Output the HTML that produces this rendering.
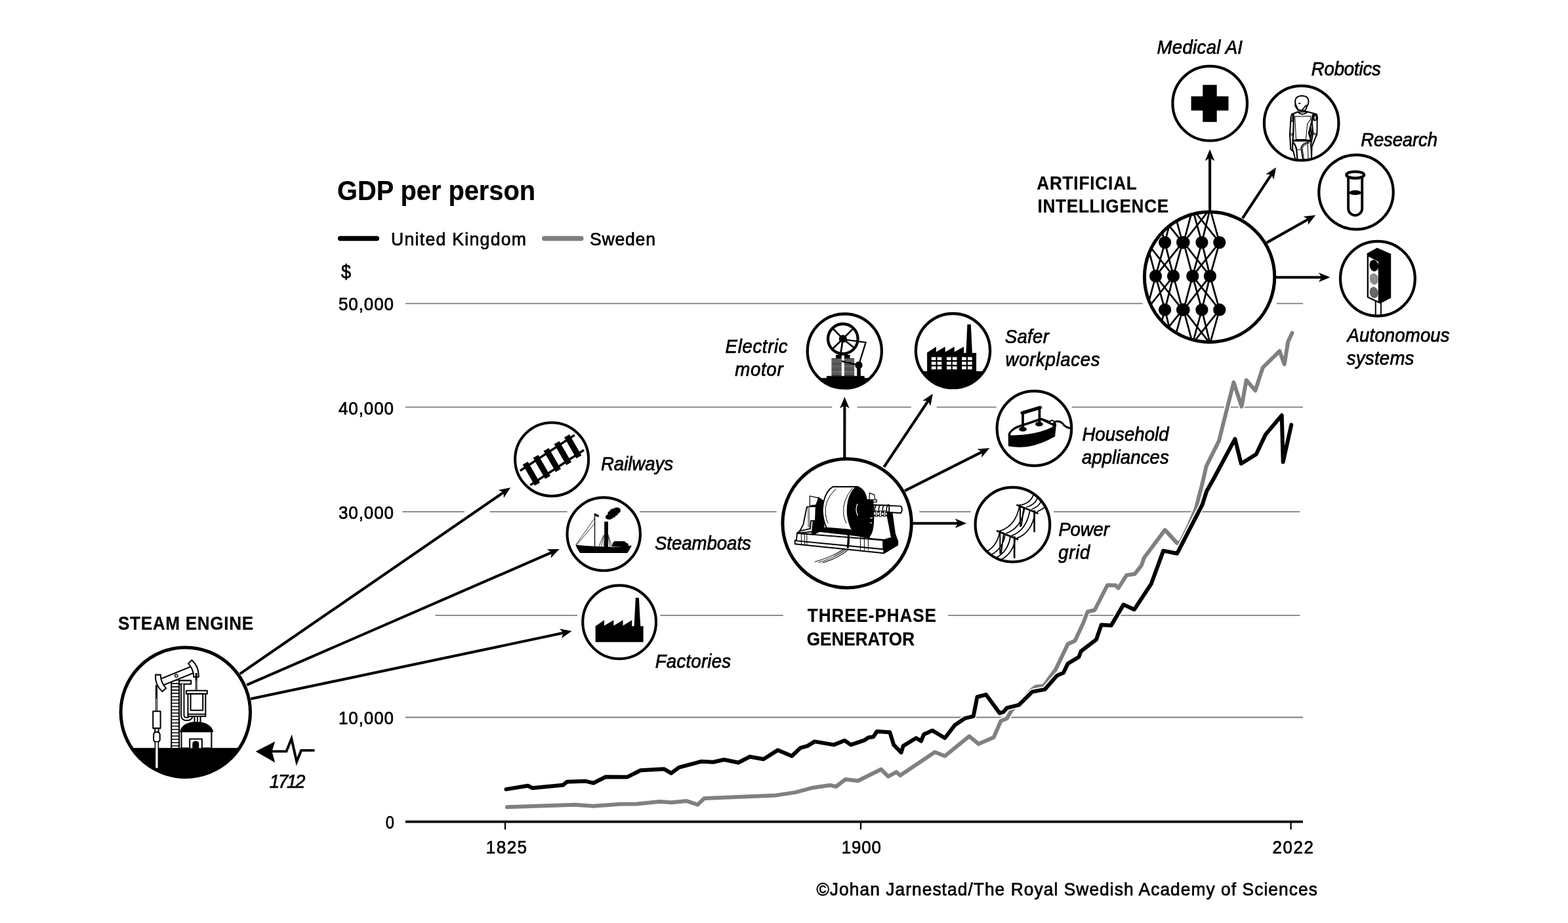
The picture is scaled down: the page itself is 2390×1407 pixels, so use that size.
<!DOCTYPE html>
<html lang="en"><head><meta charset="utf-8"><title>GDP per person</title>
<style>
html,body{margin:0;padding:0;background:#fff;}
body{width:2390px;height:1407px;overflow:hidden;}
svg{display:block;font-family:"Liberation Sans",sans-serif;}
</style></head><body>
<svg width="2390" height="1407" viewBox="0 0 2390 1407">
<rect width="2390" height="1407" fill="#fff"/>
<g id="grid">
<line x1="618.0" y1="462.7" x2="1741.7" y2="462.7" stroke="#7d7d7d" stroke-width="1.8"/>
<line x1="1946.0" y1="462.7" x2="1986.0" y2="462.7" stroke="#7d7d7d" stroke-width="1.8"/>
<line x1="618.0" y1="620.7" x2="1268.1" y2="620.7" stroke="#7d7d7d" stroke-width="1.8"/>
<line x1="1306.5" y1="620.7" x2="1388.7" y2="620.7" stroke="#7d7d7d" stroke-width="1.8"/>
<line x1="1427.6" y1="620.7" x2="1518.7" y2="620.7" stroke="#7d7d7d" stroke-width="1.8"/>
<line x1="1633.8" y1="620.7" x2="1986.0" y2="620.7" stroke="#7d7d7d" stroke-width="1.8"/>
<line x1="613.3" y1="780.2" x2="707.8" y2="780.2" stroke="#7d7d7d" stroke-width="1.8"/>
<line x1="746.5" y1="780.2" x2="864.6" y2="780.2" stroke="#7d7d7d" stroke-width="1.8"/>
<line x1="975.1" y1="780.2" x2="1183.6" y2="780.2" stroke="#7d7d7d" stroke-width="1.8"/>
<line x1="1401.3" y1="780.2" x2="1479.9" y2="780.2" stroke="#7d7d7d" stroke-width="1.8"/>
<line x1="1606.0" y1="780.2" x2="1981.3" y2="780.2" stroke="#7d7d7d" stroke-width="1.8"/>
<line x1="663.5" y1="938.1" x2="880.2" y2="938.1" stroke="#7d7d7d" stroke-width="1.8"/>
<line x1="1006.3" y1="938.1" x2="1193.9" y2="938.1" stroke="#7d7d7d" stroke-width="1.8"/>
<line x1="1445.2" y1="938.1" x2="1981.3" y2="938.1" stroke="#7d7d7d" stroke-width="1.8"/>
<line x1="618.0" y1="1093.5" x2="1986.0" y2="1093.5" stroke="#7d7d7d" stroke-width="1.8"/>
</g>
<g id="curves">
<polyline points="772.9,1230.3 876.7,1226.7 904.3,1228.8 945.8,1225.7 970.9,1225.4 1004.8,1221.9 1023.6,1223.2 1046.2,1220.9 1063.4,1226.6 1073.5,1216.9 1182.3,1212.4 1212.4,1207.9 1239.2,1200.7 1265.1,1197.0 1274.3,1199.0 1288.5,1188.1 1307.8,1190.3 1342.9,1172.7 1353.8,1183.6 1366.4,1176.9 1372.2,1181.9 1424.9,1146.5 1440.2,1152.5 1477.3,1122.4 1491.7,1134.1 1514.6,1124.1 1525.5,1099.0 1534.7,1095.3 1542.3,1082.2 1556.0,1070.0 1572.0,1052.0 1579.1,1046.7 1590.8,1045.7 1609.2,1020.3 1627.6,981.8 1638.5,976.8 1651.0,950.0 1657.7,932.5 1668.6,930.0 1687.9,892.0 1700.4,892.3 1704.6,896.5 1717.2,876.9 1729.7,874.8 1739.7,862.2 1743.9,850.2 1775.7,807.8 1794.1,827.9 1799.5,826.5 1812.5,800.0 1822.7,775.7 1826.7,759.8 1831.9,739.9 1834.3,730.0 1838.6,710.9 1857.8,672.4 1880.4,582.9 1892.5,619.7 1899.7,579.5 1913.4,595.4 1924.8,560.3 1950.4,535.2 1957.7,555.3 1963.3,520.9 1969.5,507.6" fill="none" stroke="#fff" stroke-width="9.5" stroke-linejoin="round" stroke-linecap="round"/>
<polyline points="772.9,1230.3 876.7,1226.7 904.3,1228.8 945.8,1225.7 970.9,1225.4 1004.8,1221.9 1023.6,1223.2 1046.2,1220.9 1063.4,1226.6 1073.5,1216.9 1182.3,1212.4 1212.4,1207.9 1239.2,1200.7 1265.1,1197.0 1274.3,1199.0 1288.5,1188.1 1307.8,1190.3 1342.9,1172.7 1353.8,1183.6 1366.4,1176.9 1372.2,1181.9 1424.9,1146.5 1440.2,1152.5 1477.3,1122.4 1491.7,1134.1 1514.6,1124.1 1525.5,1099.0 1534.7,1095.3 1542.3,1082.2 1556.0,1070.0 1572.0,1052.0 1579.1,1046.7 1590.8,1045.7 1609.2,1020.3 1627.6,981.8 1638.5,976.8 1651.0,950.0 1657.7,932.5 1668.6,930.0 1687.9,892.0 1700.4,892.3 1704.6,896.5 1717.2,876.9 1729.7,874.8 1739.7,862.2 1743.9,850.2 1775.7,807.8 1794.1,827.9 1799.5,826.5 1812.5,800.0 1822.7,775.7 1826.7,759.8 1831.9,739.9 1834.3,730.0 1838.6,710.9 1857.8,672.4 1880.4,582.9 1892.5,619.7 1899.7,579.5 1913.4,595.4 1924.8,560.3 1950.4,535.2 1957.7,555.3 1963.3,520.9 1969.5,507.6" fill="none" stroke="#808080" stroke-width="6" stroke-linejoin="round" stroke-linecap="round"/>
<polyline points="771.5,1203.1 804.6,1197.8 811.5,1201.2 857.9,1196.8 864.2,1191.8 893.0,1190.8 904.3,1193.7 923.2,1184.3 955.8,1184.6 976.5,1174.2 1012.3,1172.3 1023.0,1178.6 1034.9,1169.8 1068.5,1160.8 1086.9,1161.8 1103.6,1158.0 1125.4,1162.5 1142.9,1153.5 1163.8,1157.2 1185.6,1143.4 1207.0,1152.5 1219.9,1140.1 1230.8,1137.1 1241.7,1130.4 1271.0,1135.4 1287.4,1128.7 1296.9,1135.4 1317.0,1128.7 1323.7,1124.2 1331.2,1123.2 1336.6,1115.0 1356.3,1116.2 1362.2,1135.4 1373.6,1147.1 1376.7,1137.1 1396.5,1125.0 1404.0,1129.7 1408.1,1119.6 1421.2,1113.6 1440.2,1125.0 1455.2,1105.6 1471.1,1094.8 1483.7,1091.9 1489.5,1062.5 1502.9,1058.8 1523.8,1087.2 1529.7,1085.2 1534.7,1079.2 1553.1,1074.7 1573.2,1054.6 1592.5,1050.9 1610.9,1030.0 1620.9,1025.6 1627.6,1011.6 1644.4,1001.5 1647.7,992.7 1671.1,974.8 1678.7,952.4 1693.7,953.4 1712.5,921.6 1728.9,929.2 1754.8,889.8 1773.2,839.6 1794.1,843.8 1832.6,769.3 1839.3,748.4 1849.8,730.0 1882.4,669.1 1891.8,706.7 1914.7,692.5 1929.0,662.4 1953.7,633.1 1955.7,704.2 1968.3,647.6" fill="none" stroke="#fff" stroke-width="9.5" stroke-linejoin="round" stroke-linecap="round"/>
<polyline points="771.5,1203.1 804.6,1197.8 811.5,1201.2 857.9,1196.8 864.2,1191.8 893.0,1190.8 904.3,1193.7 923.2,1184.3 955.8,1184.6 976.5,1174.2 1012.3,1172.3 1023.0,1178.6 1034.9,1169.8 1068.5,1160.8 1086.9,1161.8 1103.6,1158.0 1125.4,1162.5 1142.9,1153.5 1163.8,1157.2 1185.6,1143.4 1207.0,1152.5 1219.9,1140.1 1230.8,1137.1 1241.7,1130.4 1271.0,1135.4 1287.4,1128.7 1296.9,1135.4 1317.0,1128.7 1323.7,1124.2 1331.2,1123.2 1336.6,1115.0 1356.3,1116.2 1362.2,1135.4 1373.6,1147.1 1376.7,1137.1 1396.5,1125.0 1404.0,1129.7 1408.1,1119.6 1421.2,1113.6 1440.2,1125.0 1455.2,1105.6 1471.1,1094.8 1483.7,1091.9 1489.5,1062.5 1502.9,1058.8 1523.8,1087.2 1529.7,1085.2 1534.7,1079.2 1553.1,1074.7 1573.2,1054.6 1592.5,1050.9 1610.9,1030.0 1620.9,1025.6 1627.6,1011.6 1644.4,1001.5 1647.7,992.7 1671.1,974.8 1678.7,952.4 1693.7,953.4 1712.5,921.6 1728.9,929.2 1754.8,889.8 1773.2,839.6 1794.1,843.8 1832.6,769.3 1839.3,748.4 1849.8,730.0 1882.4,669.1 1891.8,706.7 1914.7,692.5 1929.0,662.4 1953.7,633.1 1955.7,704.2 1968.3,647.6" fill="none" stroke="#000" stroke-width="6" stroke-linejoin="round" stroke-linecap="round"/>
</g>
<g id="axis">
<line x1="618" y1="1252.6" x2="1986" y2="1252.6" stroke="#000" stroke-width="3.6"/>
<line x1="770" y1="1252" x2="770" y2="1264.5" stroke="#000" stroke-width="2.3"/>
<line x1="1312" y1="1252" x2="1312" y2="1264.5" stroke="#000" stroke-width="2.3"/>
<line x1="1967.6" y1="1252" x2="1967.6" y2="1264.5" stroke="#000" stroke-width="2.3"/>
</g>
<g id="arrows">
<line x1="365.8" y1="1027.1" x2="767.5" y2="750.6" stroke="#000" stroke-width="4.1"/>
<polygon points="778.2,743.2 759.6,747.1 767.5,750.6 767.9,759.1" fill="#000"/>
<line x1="376.1" y1="1044.2" x2="840.8" y2="842.2" stroke="#000" stroke-width="4.1"/>
<polygon points="852.7,837.0 833.7,837.3 840.8,842.2 839.6,850.7" fill="#000"/>
<line x1="382.4" y1="1065.3" x2="858.8" y2="964.8" stroke="#000" stroke-width="4.1"/>
<polygon points="871.5,962.1 852.9,958.6 858.8,964.8 855.9,972.9" fill="#000"/>
<line x1="1287.3" y1="700.0" x2="1287.4" y2="617.9" stroke="#000" stroke-width="4.1"/>
<polygon points="1287.4,604.9 1280.1,622.4 1287.4,617.9 1294.7,622.4" fill="#000"/>
<line x1="1347.4" y1="711.8" x2="1414.7" y2="611.1" stroke="#000" stroke-width="4.1"/>
<polygon points="1421.9,600.3 1406.1,610.8 1414.7,611.1 1418.2,618.9" fill="#000"/>
<line x1="1379.2" y1="748.2" x2="1496.8" y2="688.9" stroke="#000" stroke-width="4.1"/>
<polygon points="1508.4,683.1 1489.5,684.5 1496.8,688.9 1496.1,697.5" fill="#000"/>
<line x1="1390.0" y1="797.8" x2="1460.2" y2="797.8" stroke="#000" stroke-width="4.1"/>
<polygon points="1473.2,797.8 1455.7,790.5 1460.2,797.8 1455.7,805.1" fill="#000"/>
<line x1="1844.1" y1="322.0" x2="1844.1" y2="240.7" stroke="#000" stroke-width="4.1"/>
<polygon points="1844.1,227.7 1836.8,245.2 1844.1,240.7 1851.4,245.2" fill="#000"/>
<line x1="1893.8" y1="332.9" x2="1937.8" y2="266.1" stroke="#000" stroke-width="4.1"/>
<polygon points="1945.0,255.2 1929.3,265.8 1937.8,266.1 1941.5,273.8" fill="#000"/>
<line x1="1930.8" y1="369.9" x2="1994.1" y2="334.3" stroke="#000" stroke-width="4.1"/>
<polygon points="2005.4,327.9 1986.6,330.1 1994.1,334.3 1993.7,342.8" fill="#000"/>
<line x1="1942.0" y1="422.8" x2="2014.4" y2="422.8" stroke="#000" stroke-width="4.1"/>
<polygon points="2027.4,422.8 2009.9,415.5 2014.4,422.8 2009.9,430.1" fill="#000"/>
</g>
<defs>
<clipPath id="c_steam"><circle cx="282.8" cy="1085.7" r="98.7"/></clipPath>
<clipPath id="c_gen"><circle cx="1291.1" cy="797.7" r="98.2"/></clipPath>
<clipPath id="c_ai"><circle cx="1843.6" cy="422.3" r="99.2"/></clipPath>
<clipPath id="c_rail"><circle cx="841.1" cy="700.2" r="56.0"/></clipPath>
<clipPath id="c_boat"><circle cx="920.2" cy="814.1" r="55.7"/></clipPath>
<clipPath id="c_fact"><circle cx="944.1" cy="948.3" r="55.9"/></clipPath>
<clipPath id="c_motor"><circle cx="1287.3" cy="535.1" r="56.6"/></clipPath>
<clipPath id="c_safer"><circle cx="1452.5" cy="534.6" r="56.6"/></clipPath>
<clipPath id="c_house"><circle cx="1576.4" cy="653.0" r="56.8"/></clipPath>
<clipPath id="c_power"><circle cx="1543.4" cy="799.7" r="56.8"/></clipPath>
<clipPath id="c_med"><circle cx="1844.2" cy="157.7" r="56.8"/></clipPath>
<clipPath id="c_robot"><circle cx="1983.7" cy="187.7" r="56.8"/></clipPath>
<clipPath id="c_res"><circle cx="2067.0" cy="292.9" r="56.7"/></clipPath>
<clipPath id="c_auto"><circle cx="2099.9" cy="424.7" r="56.9"/></clipPath>
</defs>
<g id="icons">
<circle cx="282.8" cy="1085.7" r="98.7" fill="#fff"/>
<circle cx="1291.1" cy="797.7" r="98.2" fill="#fff"/>
<circle cx="1843.6" cy="422.3" r="99.2" fill="#fff"/>
<circle cx="841.1" cy="700.2" r="56.0" fill="#fff"/>
<circle cx="920.2" cy="814.1" r="55.7" fill="#fff"/>
<circle cx="944.1" cy="948.3" r="55.9" fill="#fff"/>
<circle cx="1287.3" cy="535.1" r="56.6" fill="#fff"/>
<circle cx="1452.5" cy="534.6" r="56.6" fill="#fff"/>
<circle cx="1576.4" cy="653.0" r="56.8" fill="#fff"/>
<circle cx="1543.4" cy="799.7" r="56.8" fill="#fff"/>
<circle cx="1844.2" cy="157.7" r="56.8" fill="#fff"/>
<circle cx="1983.7" cy="187.7" r="56.8" fill="#fff"/>
<circle cx="2067.0" cy="292.9" r="56.7" fill="#fff"/>
<circle cx="2099.9" cy="424.7" r="56.9" fill="#fff"/>
<g clip-path="url(#c_steam)"><g transform="translate(160 910) scale(0.22743)">
<rect x="60" y="1012" width="960" height="260" fill="#000"/>
<rect x="445" y="556" width="52" height="460" stroke="#000" stroke-width="9" fill="#fff" stroke-linejoin="round"/>
<line x1="445" y1="580" x2="497" y2="580" stroke="#000" stroke-width="7"/>
<line x1="445" y1="602" x2="497" y2="602" stroke="#000" stroke-width="7"/>
<line x1="445" y1="624" x2="497" y2="624" stroke="#000" stroke-width="7"/>
<line x1="445" y1="646" x2="497" y2="646" stroke="#000" stroke-width="7"/>
<line x1="445" y1="668" x2="497" y2="668" stroke="#000" stroke-width="7"/>
<line x1="445" y1="690" x2="497" y2="690" stroke="#000" stroke-width="7"/>
<line x1="445" y1="712" x2="497" y2="712" stroke="#000" stroke-width="7"/>
<line x1="445" y1="734" x2="497" y2="734" stroke="#000" stroke-width="7"/>
<line x1="445" y1="756" x2="497" y2="756" stroke="#000" stroke-width="7"/>
<line x1="445" y1="778" x2="497" y2="778" stroke="#000" stroke-width="7"/>
<line x1="445" y1="800" x2="497" y2="800" stroke="#000" stroke-width="7"/>
<line x1="445" y1="822" x2="497" y2="822" stroke="#000" stroke-width="7"/>
<line x1="445" y1="844" x2="497" y2="844" stroke="#000" stroke-width="7"/>
<line x1="445" y1="866" x2="497" y2="866" stroke="#000" stroke-width="7"/>
<line x1="445" y1="888" x2="497" y2="888" stroke="#000" stroke-width="7"/>
<line x1="445" y1="910" x2="497" y2="910" stroke="#000" stroke-width="7"/>
<line x1="445" y1="932" x2="497" y2="932" stroke="#000" stroke-width="7"/>
<line x1="445" y1="954" x2="497" y2="954" stroke="#000" stroke-width="7"/>
<line x1="445" y1="976" x2="497" y2="976" stroke="#000" stroke-width="7"/>
<line x1="445" y1="998" x2="497" y2="998" stroke="#000" stroke-width="7"/>
<rect x="497" y="560" width="80" height="24" stroke="#000" stroke-width="9" fill="#fff" stroke-linejoin="round"/>
<path d="M520 584 V795 Q522 818 548 818 Q572 818 578 800" fill="none" stroke="#000" stroke-width="28"/>
<path d="M520 584 V795 Q522 818 548 818 Q572 818 578 800" fill="none" stroke="#fff" stroke-width="11"/>
<g transform="rotate(-22 478 530)"><rect x="352" y="508" width="262" height="46" stroke="#000" stroke-width="9" fill="#fff" stroke-linejoin="round"/><path d="M352 470 Q322 531 352 592 L384 580 Q364 531 384 482 Z" stroke="#000" stroke-width="9" fill="#fff" stroke-linejoin="round"/><path d="M614 470 Q644 531 614 592 L584 580 Q602 531 584 482 Z" stroke="#000" stroke-width="9" fill="#fff" stroke-linejoin="round"/></g>
<circle cx="478" cy="528" r="10" fill="#fff" stroke="#000" stroke-width="6"/>
<line x1="345" y1="590" x2="345" y2="770" stroke="#000" stroke-width="14"/>
<line x1="345" y1="680" x2="345" y2="770" stroke="#fff" stroke-width="4"/>
<rect x="322" y="766" width="50" height="114" stroke="#000" stroke-width="9" fill="#fff" stroke-linejoin="round"/>
<rect x="335" y="880" width="24" height="28" stroke="#000" stroke-width="9" fill="#fff" stroke-linejoin="round"/>
<path d="M326 925 Q326 905 347 905 Q368 905 368 925 V960 L358 972 H336 L326 960 Z" stroke="#000" stroke-width="9" fill="#fff" stroke-linejoin="round"/>
<rect x="336" y="970" width="22" height="180" fill="#fff" stroke="#000" stroke-width="7"/>
<line x1="612" y1="510" x2="612" y2="650" stroke="#000" stroke-width="13"/>
<line x1="612" y1="560" x2="612" y2="640" stroke="#fff" stroke-width="3"/>
<rect x="545" y="628" width="140" height="22" stroke="#000" stroke-width="9" fill="#fff" stroke-linejoin="round"/>
<rect x="556" y="650" width="118" height="138" stroke="#000" stroke-width="9" fill="#fff" stroke-linejoin="round"/>
<rect x="574" y="650" width="82" height="110" stroke="#000" stroke-width="9" fill="#fff" stroke-linejoin="round"/>
<rect x="556" y="786" width="118" height="14" stroke="#000" stroke-width="9" fill="#fff" stroke-linejoin="round"/>
<rect x="600" y="800" width="40" height="50" stroke="#000" stroke-width="9" fill="#fff" stroke-linejoin="round"/>
<line x1="620" y1="800" x2="620" y2="850" stroke="#000" stroke-width="8"/>
<path d="M506 902 Q520 842 612 840 Q705 842 722 902 Z" fill="#000" stroke="#000" stroke-width="8" stroke-linejoin="round"/>
<rect x="512" y="902" width="202" height="112" stroke="#000" stroke-width="9" fill="#fff" stroke-linejoin="round"/>
<path d="M568 1012 V952 H650 V1012" stroke="#000" stroke-width="9" fill="#fff" stroke-linejoin="round"/>
<path d="M586 1014 V985 Q586 965 608 965 Q630 965 630 985 V1014 Z" fill="#000"/>
</g></g>
<g clip-path="url(#c_rail)"><g transform="translate(740 620) scale(0.13389)">
<line x1="395" y1="728" x2="1015" y2="322" stroke="#000" stroke-width="26"/>
<line x1="510" y1="893" x2="1120" y2="493" stroke="#000" stroke-width="26"/>
<rect x="488" y="624" width="68" height="276" fill="#000" transform="rotate(-30 522 762)"/>
<rect x="606" y="547" width="68" height="276" fill="#000" transform="rotate(-30 640 685)"/>
<rect x="726" y="469" width="68" height="276" fill="#000" transform="rotate(-30 760 607)"/>
<rect x="846" y="390" width="68" height="276" fill="#000" transform="rotate(-30 880 528)"/>
<rect x="961" y="314" width="68" height="276" fill="#000" transform="rotate(-30 995 452)"/>
</g></g>
<g clip-path="url(#c_boat)"><g transform="translate(840 740) scale(0.13389)">
<path d="M278 676 Q400 690 500 693 L700 700 Q820 697 918 684 Q908 705 902 716 Q888 745 868 770 H330 Q308 740 296 716 Q285 694 278 676 Z" fill="#000"/>
<path d="M690 695 L704 652 L722 634 H836 L850 650 L880 664 V695 Z" fill="#000"/>
<rect x="606" y="412" width="43" height="290" fill="#000"/>
<path d="M640 385 Q610 375 622 350 Q625 335 645 330 Q640 300 668 292 Q675 262 710 265 Q730 245 760 252 Q795 258 790 290 Q790 310 765 318 Q760 340 735 345 Q730 365 705 368 Q690 392 660 388 Z" fill="#000"/>
<line x1="497" y1="318" x2="497" y2="692" stroke="#000" stroke-width="10"/>
<path d="M500 318 L546 340 L540 362 L500 345 Z" fill="#000"/>
<line x1="497" y1="372" x2="285" y2="672" stroke="#000" stroke-width="6"/>
<line x1="497" y1="432" x2="292" y2="676" stroke="#000" stroke-width="6"/>
<line x1="600" y1="560" x2="545" y2="692" stroke="#000" stroke-width="6"/>
<line x1="602" y1="575" x2="572" y2="692" stroke="#000" stroke-width="6"/>
<line x1="650" y1="560" x2="690" y2="692" stroke="#000" stroke-width="6"/>
<line x1="650" y1="580" x2="668" y2="692" stroke="#000" stroke-width="6"/>
<line x1="610" y1="560" x2="600" y2="692" stroke="#000" stroke-width="6"/>
</g></g>
<g clip-path="url(#c_fact)"><g transform="translate(840 870) scale(0.13389)">
<path d="M505 632 L605 562 V625 L712 562 V625 L818 562 V625 L920 562 V632 H1050 V812 H505 Z" fill="#000"/>
<path d="M962 308 H1000 L1018 640 H945 Z" fill="#000"/>
</g></g>
<g clip-path="url(#c_motor)"><g transform="translate(1090 460) scale(0.13389)">
<rect x="900" y="868" width="1200" height="200" fill="#000"/>
<rect x="1270" y="845" width="430" height="30" fill="#000"/>
<circle cx="1455" cy="422" r="170" fill="none" stroke="#000" stroke-width="32"/>
<circle cx="1455" cy="422" r="45" fill="#000"/>
<line x1="1455" y1="422" x2="1345" y2="310" stroke="#000" stroke-width="20"/>
<line x1="1455" y1="422" x2="1562" y2="315" stroke="#000" stroke-width="20"/>
<line x1="1455" y1="422" x2="1338" y2="535" stroke="#000" stroke-width="20"/>
<line x1="1455" y1="422" x2="1592" y2="532" stroke="#000" stroke-width="20"/>
<line x1="1455" y1="422" x2="1428" y2="600" stroke="#000" stroke-width="20"/>
<path d="M1455 428 L1715 462 L1640 705" fill="none" stroke="#000" stroke-width="17" stroke-linejoin="miter"/>
<rect x="1325" y="645" width="115" height="11" fill="#000"/>
<rect x="1325" y="662" width="115" height="11" fill="#000"/>
<rect x="1325" y="679" width="115" height="11" fill="#000"/>
<rect x="1325" y="696" width="115" height="11" fill="#000"/>
<rect x="1325" y="713" width="115" height="11" fill="#000"/>
<rect x="1325" y="730" width="115" height="11" fill="#000"/>
<rect x="1325" y="747" width="115" height="11" fill="#000"/>
<rect x="1325" y="764" width="115" height="11" fill="#000"/>
<rect x="1325" y="781" width="115" height="11" fill="#000"/>
<rect x="1325" y="798" width="115" height="11" fill="#000"/>
<rect x="1325" y="815" width="115" height="11" fill="#000"/>
<rect x="1325" y="832" width="115" height="11" fill="#000"/>
<rect x="1470" y="645" width="115" height="11" fill="#000"/>
<rect x="1470" y="662" width="115" height="11" fill="#000"/>
<rect x="1470" y="679" width="115" height="11" fill="#000"/>
<rect x="1470" y="696" width="115" height="11" fill="#000"/>
<rect x="1470" y="713" width="115" height="11" fill="#000"/>
<rect x="1470" y="730" width="115" height="11" fill="#000"/>
<rect x="1470" y="747" width="115" height="11" fill="#000"/>
<rect x="1470" y="764" width="115" height="11" fill="#000"/>
<rect x="1470" y="781" width="115" height="11" fill="#000"/>
<rect x="1470" y="798" width="115" height="11" fill="#000"/>
<rect x="1470" y="815" width="115" height="11" fill="#000"/>
<rect x="1470" y="832" width="115" height="11" fill="#000"/>
<rect x="1375" y="605" width="65" height="38" fill="#000"/>
<rect x="1470" y="605" width="65" height="38" fill="#000"/>
<rect x="1400" y="585" width="110" height="25" fill="#000"/>
<circle cx="1635" cy="722" r="43" fill="#000"/>
<rect x="1615" y="740" width="42" height="110" fill="#000"/>
<line x1="1635" y1="722" x2="1440" y2="676" stroke="#000" stroke-width="18"/>
</g></g>
<g clip-path="url(#c_safer)"><g transform="translate(1370 460) scale(0.13389)">
<rect x="100" y="790" width="1100" height="300" fill="#000"/>
<path d="M322 578 L425 512 V572 L528 512 V572 L633 512 V572 L740 512 V582 H882 V800 H322 Z" fill="#000"/>
<path d="M780 258 H820 L836 590 H765 Z" fill="#000"/>
<rect x="372" y="630" width="50" height="35" fill="#fff"/>
<rect x="372" y="683" width="50" height="35" fill="#fff"/>
<rect x="372" y="735" width="50" height="35" fill="#fff"/>
<rect x="438" y="630" width="50" height="35" fill="#fff"/>
<rect x="438" y="683" width="50" height="35" fill="#fff"/>
<rect x="438" y="735" width="50" height="35" fill="#fff"/>
<rect x="545" y="630" width="50" height="35" fill="#fff"/>
<rect x="545" y="683" width="50" height="35" fill="#fff"/>
<rect x="545" y="735" width="50" height="35" fill="#fff"/>
<rect x="611" y="630" width="50" height="35" fill="#fff"/>
<rect x="611" y="683" width="50" height="35" fill="#fff"/>
<rect x="611" y="735" width="50" height="35" fill="#fff"/>
<rect x="718" y="630" width="50" height="35" fill="#fff"/>
<rect x="718" y="683" width="50" height="35" fill="#fff"/>
<rect x="718" y="735" width="50" height="35" fill="#fff"/>
<rect x="784" y="630" width="50" height="35" fill="#fff"/>
<rect x="784" y="683" width="50" height="35" fill="#fff"/>
<rect x="784" y="735" width="50" height="35" fill="#fff"/>
</g></g>
<g clip-path="url(#c_house)"><g transform="translate(1480 580) scale(0.13389)">
<path d="M940 476 Q1005 448 1045 492 Q1080 545 1165 548" fill="none" stroke="#000" stroke-width="22"/>
<path d="M430 610 Q470 530 600 500 L800 432 L965 492 L950 632 Q800 720 640 748 Q520 760 432 742 Z" fill="#000" stroke="#000" stroke-width="14" stroke-linejoin="round"/>
<path d="M440 604 Q475 538 602 508 L800 442 L940 508 L938 536 Q800 604 640 622 Q520 634 440 634 Z" fill="#fff" stroke="#000" stroke-width="20" stroke-linejoin="round"/>
<path d="M892 470 L925 452 L958 474 L922 496 Z" fill="#fff" stroke="#000" stroke-width="14" stroke-linejoin="round"/>
<line x1="590" y1="370" x2="590" y2="545" stroke="#000" stroke-width="28"/>
<line x1="780" y1="315" x2="780" y2="490" stroke="#000" stroke-width="28"/>
<line x1="583" y1="370" x2="788" y2="308" stroke="#000" stroke-width="38" stroke-linecap="round"/>
<ellipse cx="590" cy="555" rx="44" ry="26" fill="#000"/>
<ellipse cx="776" cy="497" rx="44" ry="26" fill="#000"/>
<line x1="604" y1="498" x2="768" y2="440" stroke="#000" stroke-width="9"/>
</g></g>
<g clip-path="url(#c_power)"><g transform="translate(1440 720) scale(0.13389)">
<path d="M635 665 Q810 605 850 385" fill="none" stroke="#000" stroke-width="13"/>
<path d="M700 695 Q870 635 910 408" fill="none" stroke="#000" stroke-width="13"/>
<path d="M760 722 Q930 662 970 432" fill="none" stroke="#000" stroke-width="13"/>
<path d="M820 750 Q990 690 1030 456" fill="none" stroke="#000" stroke-width="13"/>
<path d="M480 900 Q600 830 625 680" fill="none" stroke="#000" stroke-width="13"/>
<path d="M535 935 Q665 865 690 702" fill="none" stroke="#000" stroke-width="13"/>
<path d="M590 970 Q723 900 748 728" fill="none" stroke="#000" stroke-width="13"/>
<path d="M648 990 Q779 920 804 752" fill="none" stroke="#000" stroke-width="13"/>
<path d="M870 372 Q980 347 1010 255" fill="none" stroke="#000" stroke-width="13"/>
<path d="M928 396 Q1030 371 1060 285" fill="none" stroke="#000" stroke-width="13"/>
<path d="M988 420 Q1070 395 1100 325" fill="none" stroke="#000" stroke-width="13"/>
<path d="M1050 448 Q1110 423 1140 395" fill="none" stroke="#000" stroke-width="13"/>
<line x1="818" y1="370" x2="1065" y2="468" stroke="#000" stroke-width="20"/>
<path d="M858 362 L860 612 L872 608 L900 400" fill="none" stroke="#000" stroke-width="15" stroke-linejoin="miter"/>
<line x1="1020" y1="432" x2="1020" y2="682" stroke="#000" stroke-width="20"/>
<line x1="590" y1="665" x2="838" y2="765" stroke="#000" stroke-width="20"/>
<path d="M630 657 L630 922 L642 918 L672 695" fill="none" stroke="#000" stroke-width="15" stroke-linejoin="miter"/>
<line x1="793" y1="729" x2="793" y2="978" stroke="#000" stroke-width="20"/>
</g></g>
<rect x="1833.3" y="129.4" width="21.4" height="56.5" fill="#000"/>
<rect x="1815.6" y="146.8" width="56.9" height="21.7" fill="#000"/>
<g clip-path="url(#c_robot)"><g transform="translate(1950 135) scale(0.08173)">
<path d="M245 975 L215 1130 L262 1170 L300 1330 H600 L605 1100 L590 975 Z" fill="#fff" stroke="#000" stroke-width="25" stroke-linejoin="round" stroke-linecap="round"/>
<path d="M248 990 Q300 1040 322 1120 L340 1330" fill="none" stroke="#000" stroke-width="21" stroke-linejoin="round" stroke-linecap="round"/>
<path d="M262 1020 Q300 1080 315 1140 L330 1330" fill="none" stroke="#000" stroke-width="13" stroke-linejoin="round" stroke-linecap="round"/>
<path d="M330 1142 H392" fill="none" stroke="#000" stroke-width="13" stroke-linejoin="round" stroke-linecap="round"/>
<path d="M585 985 Q430 1010 405 1110 L440 1330" fill="none" stroke="#000" stroke-width="21" stroke-linejoin="round" stroke-linecap="round"/>
<path d="M560 1015 Q445 1040 428 1120 L462 1330" fill="none" stroke="#000" stroke-width="13" stroke-linejoin="round" stroke-linecap="round"/>
<path d="M528 1010 L540 1330" fill="none" stroke="#000" stroke-width="13" stroke-linejoin="round" stroke-linecap="round"/>
<path d="M588 1040 L600 1300" fill="none" stroke="#000" stroke-width="21" stroke-linejoin="round" stroke-linecap="round"/>
<path d="M232 480 Q205 540 212 610 L196 850 L212 1130 L250 1165 L245 1060 L262 850 L268 620 L270 490 Z" fill="#fff" stroke="#000" stroke-width="25" stroke-linejoin="round" stroke-linecap="round"/>
<path d="M232 482 Q210 540 215 610 L262 615 L268 492 Z" fill="#000" stroke="#000" stroke-width="12" stroke-linejoin="round"/>
<path d="M236 510 Q228 560 236 598" fill="none" stroke="#fff" stroke-width="10" stroke-linecap="round"/>
<path d="M198 842 L262 846 M200 868 L258 870" fill="none" stroke="#000" stroke-width="13" stroke-linejoin="round" stroke-linecap="round"/>
<path d="M620 480 L690 478 Q720 520 706 600 L702 850 L600 1100 L588 1060 L628 830 L612 640 Z" fill="#fff" stroke="#000" stroke-width="25" stroke-linejoin="round" stroke-linecap="round"/>
<ellipse cx="662" cy="548" rx="40" ry="62" fill="#000"/>
<ellipse cx="668" cy="548" rx="13" ry="36" fill="#fff"/>
<path d="M634 826 L702 846 M630 848 L696 868" fill="none" stroke="#000" stroke-width="13" stroke-linejoin="round" stroke-linecap="round"/>
<path d="M232 480 L335 438 L520 430 L690 478 L620 492 L602 620 L548 830 L590 965 H250 L262 850 L268 492 Z" fill="#fff" stroke="#000" stroke-width="25" stroke-linejoin="round" stroke-linecap="round"/>
<path d="M592 716 L546 830 L590 925 L612 830 Z" fill="#000" stroke="#000" stroke-width="8" stroke-linejoin="round"/>
<path d="M580 800 L572 830 L586 870 Z" fill="#fff"/>
<path d="M290 520 L580 515 L586 570 L522 660 L496 950 H312 Z" fill="none" stroke="#000" stroke-width="13" stroke-linejoin="round" stroke-linecap="round"/>
<path d="M250 965 H590" fill="none" stroke="#000" stroke-width="21" stroke-linejoin="round" stroke-linecap="round"/>
<path d="M356 450 Q440 510 520 446" fill="none" stroke="#000" stroke-width="21" stroke-linejoin="round" stroke-linecap="round"/>
<path d="M352 402 L300 330 L296 232 Q300 140 420 135 Q545 140 546 235 Q545 290 520 322 L482 412 L420 406 Z" fill="#fff" stroke="#000" stroke-width="25" stroke-linejoin="round" stroke-linecap="round"/>
<path d="M420 406 L500 310" fill="none" stroke="#000" stroke-width="21" stroke-linejoin="round" stroke-linecap="round"/>
<path d="M300 296 L322 345 L352 398" fill="none" stroke="#000" stroke-width="30" stroke-linejoin="round" stroke-linecap="round"/>
<ellipse cx="378" cy="276" rx="26" ry="11" fill="#000" transform="rotate(8 378 276)"/>
</g></g>
<path d="M2055.1 268 V317.8 A10.55 10.55 0 0 0 2076.2 317.8 V268" fill="#fff" stroke="#000" stroke-width="3.9"/>
<ellipse cx="2065.7" cy="266.6" rx="13.4" ry="5.0" fill="#fff" stroke="#000" stroke-width="4.3"/>
<ellipse cx="2065.7" cy="293.7" rx="9.6" ry="3.6" fill="#000"/>
<g clip-path="url(#c_auto)"><g transform="translate(1940 340) scale(0.17768)">
<rect x="882" y="670" width="46" height="140" fill="#fff" stroke="#000" stroke-width="11"/>
<path d="M806 262 L895 213 L1014 264 V642 L918 694 Z" fill="#000"/>
<path d="M815 277 L911 326 V681 L815 636 Z" fill="#fff" stroke="#000" stroke-width="13" stroke-linejoin="round"/>
<ellipse cx="868" cy="365" rx="38" ry="50" fill="#000" transform="rotate(-12 868 365)"/>
<ellipse cx="868" cy="480" rx="37" ry="49" fill="#8c8c8c" transform="rotate(-12 868 480)"/>
<ellipse cx="868" cy="596" rx="37" ry="49" fill="#666" transform="rotate(-12 868 596)"/>
</g></g>
<g clip-path="url(#c_ai)">
<line x1="1761.5" y1="318.4" x2="1747.8" y2="369.6" stroke="#000" stroke-width="2.7"/>
<line x1="1761.5" y1="318.4" x2="1775.6" y2="369.6" stroke="#000" stroke-width="2.7"/>
<line x1="1761.5" y1="318.4" x2="1802.5" y2="369.6" stroke="#000" stroke-width="2.7"/>
<line x1="1788.5" y1="318.4" x2="1747.8" y2="369.6" stroke="#000" stroke-width="2.7"/>
<line x1="1788.5" y1="318.4" x2="1775.6" y2="369.6" stroke="#000" stroke-width="2.7"/>
<line x1="1788.5" y1="318.4" x2="1802.5" y2="369.6" stroke="#000" stroke-width="2.7"/>
<line x1="1817.8" y1="318.4" x2="1804.1" y2="369.6" stroke="#000" stroke-width="2.7"/>
<line x1="1817.8" y1="318.4" x2="1831.9" y2="369.6" stroke="#000" stroke-width="2.7"/>
<line x1="1817.8" y1="318.4" x2="1858.8" y2="369.6" stroke="#000" stroke-width="2.7"/>
<line x1="1844.4" y1="318.4" x2="1804.1" y2="369.6" stroke="#000" stroke-width="2.7"/>
<line x1="1844.4" y1="318.4" x2="1831.9" y2="369.6" stroke="#000" stroke-width="2.7"/>
<line x1="1844.4" y1="318.4" x2="1858.8" y2="369.6" stroke="#000" stroke-width="2.7"/>
<line x1="1747.8" y1="369.6" x2="1761.5" y2="420.9" stroke="#000" stroke-width="2.7"/>
<line x1="1747.8" y1="369.6" x2="1788.5" y2="420.9" stroke="#000" stroke-width="2.7"/>
<line x1="1775.6" y1="369.6" x2="1761.5" y2="420.9" stroke="#000" stroke-width="2.7"/>
<line x1="1775.6" y1="369.6" x2="1788.5" y2="420.9" stroke="#000" stroke-width="2.7"/>
<line x1="1802.5" y1="369.6" x2="1761.5" y2="420.9" stroke="#000" stroke-width="2.7"/>
<line x1="1802.5" y1="369.6" x2="1788.5" y2="420.9" stroke="#000" stroke-width="2.7"/>
<line x1="1804.1" y1="369.6" x2="1817.8" y2="420.9" stroke="#000" stroke-width="2.7"/>
<line x1="1804.1" y1="369.6" x2="1844.4" y2="420.9" stroke="#000" stroke-width="2.7"/>
<line x1="1831.9" y1="369.6" x2="1817.8" y2="420.9" stroke="#000" stroke-width="2.7"/>
<line x1="1831.9" y1="369.6" x2="1844.4" y2="420.9" stroke="#000" stroke-width="2.7"/>
<line x1="1858.8" y1="369.6" x2="1817.8" y2="420.9" stroke="#000" stroke-width="2.7"/>
<line x1="1858.8" y1="369.6" x2="1844.4" y2="420.9" stroke="#000" stroke-width="2.7"/>
<line x1="1761.5" y1="420.9" x2="1747.8" y2="472.2" stroke="#000" stroke-width="2.7"/>
<line x1="1761.5" y1="420.9" x2="1775.6" y2="472.2" stroke="#000" stroke-width="2.7"/>
<line x1="1761.5" y1="420.9" x2="1802.5" y2="472.2" stroke="#000" stroke-width="2.7"/>
<line x1="1788.5" y1="420.9" x2="1747.8" y2="472.2" stroke="#000" stroke-width="2.7"/>
<line x1="1788.5" y1="420.9" x2="1775.6" y2="472.2" stroke="#000" stroke-width="2.7"/>
<line x1="1788.5" y1="420.9" x2="1802.5" y2="472.2" stroke="#000" stroke-width="2.7"/>
<line x1="1817.8" y1="420.9" x2="1804.1" y2="472.2" stroke="#000" stroke-width="2.7"/>
<line x1="1817.8" y1="420.9" x2="1831.9" y2="472.2" stroke="#000" stroke-width="2.7"/>
<line x1="1817.8" y1="420.9" x2="1858.8" y2="472.2" stroke="#000" stroke-width="2.7"/>
<line x1="1844.4" y1="420.9" x2="1804.1" y2="472.2" stroke="#000" stroke-width="2.7"/>
<line x1="1844.4" y1="420.9" x2="1831.9" y2="472.2" stroke="#000" stroke-width="2.7"/>
<line x1="1844.4" y1="420.9" x2="1858.8" y2="472.2" stroke="#000" stroke-width="2.7"/>
<line x1="1747.8" y1="472.2" x2="1761.5" y2="523.5" stroke="#000" stroke-width="2.7"/>
<line x1="1747.8" y1="472.2" x2="1788.5" y2="523.5" stroke="#000" stroke-width="2.7"/>
<line x1="1775.6" y1="472.2" x2="1761.5" y2="523.5" stroke="#000" stroke-width="2.7"/>
<line x1="1775.6" y1="472.2" x2="1788.5" y2="523.5" stroke="#000" stroke-width="2.7"/>
<line x1="1802.5" y1="472.2" x2="1761.5" y2="523.5" stroke="#000" stroke-width="2.7"/>
<line x1="1802.5" y1="472.2" x2="1788.5" y2="523.5" stroke="#000" stroke-width="2.7"/>
<line x1="1804.1" y1="472.2" x2="1817.8" y2="523.5" stroke="#000" stroke-width="2.7"/>
<line x1="1804.1" y1="472.2" x2="1844.4" y2="523.5" stroke="#000" stroke-width="2.7"/>
<line x1="1831.9" y1="472.2" x2="1817.8" y2="523.5" stroke="#000" stroke-width="2.7"/>
<line x1="1831.9" y1="472.2" x2="1844.4" y2="523.5" stroke="#000" stroke-width="2.7"/>
<line x1="1858.8" y1="472.2" x2="1817.8" y2="523.5" stroke="#000" stroke-width="2.7"/>
<line x1="1858.8" y1="472.2" x2="1844.4" y2="523.5" stroke="#000" stroke-width="2.7"/>
<circle cx="1775.6" cy="369.6" r="9.6" fill="#000"/>
<circle cx="1803.3" cy="369.6" r="9.6" fill="#000"/>
<circle cx="1831.9" cy="369.6" r="9.6" fill="#000"/>
<circle cx="1858.8" cy="369.6" r="9.6" fill="#000"/>
<ellipse cx="1803.3" cy="369.6" rx="10.4" ry="9.6" fill="#000"/>
<circle cx="1775.6" cy="472.2" r="9.6" fill="#000"/>
<circle cx="1803.3" cy="472.2" r="9.6" fill="#000"/>
<circle cx="1831.9" cy="472.2" r="9.6" fill="#000"/>
<circle cx="1858.8" cy="472.2" r="9.6" fill="#000"/>
<ellipse cx="1803.3" cy="472.2" rx="10.4" ry="9.6" fill="#000"/>
<circle cx="1761.5" cy="420.9" r="9.6" fill="#000"/>
<circle cx="1788.5" cy="420.9" r="9.6" fill="#000"/>
<circle cx="1817.8" cy="420.9" r="9.6" fill="#000"/>
<circle cx="1844.4" cy="420.9" r="9.6" fill="#000"/>
</g>
<g clip-path="url(#c_gen)"><g transform="translate(1200 730) scale(0.09950)">
<path d="M915 1040 Q760 1170 420 1272 M930 1055 Q790 1185 480 1282 M945 1070 Q820 1200 540 1286" fill="none" stroke="#000" stroke-width="11"/>
<path d="M118 940 L1480 1075 L1690 952 L1690 1010 L1480 1138 L118 998 Z" fill="#fff" stroke="#000" stroke-width="19" stroke-linejoin="round" stroke-linecap="round"/>
<path d="M1480 1075 L1690 952 L1690 1010 L1480 1138 Z" fill="#000" stroke="#000" stroke-width="19" stroke-linejoin="round" stroke-linecap="round"/>
<path d="M150 832 L1470 940 L1470 1078 L140 948 Z" fill="#fff" stroke="#000" stroke-width="19" stroke-linejoin="round" stroke-linecap="round"/>
<path d="M1470 940 L1650 845 L1690 952 L1480 1075 Z" fill="#000" stroke="#000" stroke-width="19" stroke-linejoin="round" stroke-linecap="round"/>
<path d="M150 832 L480 800 L1250 870 L1470 940" fill="#fff" stroke="#000" stroke-width="19" stroke-linejoin="round" stroke-linecap="round"/>
<path d="M400 850 L1250 915" fill="none" stroke="#000" stroke-width="12" stroke-linejoin="round" stroke-linecap="round"/>
<path d="M1325 560 L1535 560 L1600 900 L1480 935 L1250 915 Z" fill="#fff" stroke="#000" stroke-width="19" stroke-linejoin="round" stroke-linecap="round"/>
<path d="M1535 560 L1545 395 L1590 420 L1650 850 L1600 900 Z" fill="#000" stroke="#000" stroke-width="19" stroke-linejoin="round" stroke-linecap="round"/>
<path d="M1320 398 L1740 418 Q1775 470 1740 522 L1320 500 Z" fill="#fff" stroke="#000" stroke-width="19" stroke-linejoin="round" stroke-linecap="round"/>
<path d="M1320 398 L1560 408 L1560 510 L1320 500 Z" fill="#fff" stroke="#000" stroke-width="19" stroke-linejoin="round" stroke-linecap="round"/>
<path d="M1365 400 Q1330 440 1345 505" fill="none" stroke="#000" stroke-width="16"/>
<path d="M1425 400 Q1390 440 1405 505" fill="none" stroke="#000" stroke-width="16"/>
<path d="M1485 400 Q1450 440 1465 505" fill="none" stroke="#000" stroke-width="16"/>
<path d="M1545 400 Q1510 440 1525 505" fill="none" stroke="#000" stroke-width="16"/>
<rect x="1350" y="490" width="26" height="86" fill="#fff" stroke="#000" stroke-width="9"/>
<rect x="1415" y="490" width="26" height="86" fill="#fff" stroke="#000" stroke-width="9"/>
<rect x="1480" y="490" width="26" height="86" fill="#fff" stroke="#000" stroke-width="9"/>
<path d="M1255 330 L1262 215 L1335 245 L1345 330 Z" fill="#fff" stroke="#000" stroke-width="12" stroke-linejoin="round" stroke-linecap="round"/>
<path d="M1215 320 H1370 V355 H1215 Z" fill="#fff" stroke="#000" stroke-width="12" stroke-linejoin="round" stroke-linecap="round"/>
<path d="M470 285 L545 335 L560 770 L420 840 L380 840 L420 420 Z" fill="#000" stroke="#000" stroke-width="19" stroke-linejoin="round" stroke-linecap="round"/>
<path d="M345 262 L480 292 L440 400 L345 410 Z" fill="#fff" stroke="#000" stroke-width="12" stroke-linejoin="round" stroke-linecap="round"/>
<path d="M300 428 L440 420 L432 640 L362 642 L352 762 L262 782 L190 800 L245 700 Z" fill="#fff" stroke="#000" stroke-width="19" stroke-linejoin="round" stroke-linecap="round"/>
<path d="M318 440 L322 745 M335 440 L338 740" fill="none" stroke="#000" stroke-width="7"/>
<path d="M190 800 L150 832 L400 850 L430 640" fill="none" stroke="#000" stroke-width="19" stroke-linejoin="round" stroke-linecap="round"/>
<path d="M470 800 L600 745 L1080 780 L1080 870 Z" fill="#000" stroke="#000" stroke-width="19" stroke-linejoin="round" stroke-linecap="round"/>
<path d="M700 120 H1085 L1100 870 L960 780 L600 750 Q520 560 548 400 Q580 190 700 120 Z" fill="#fff" stroke="#000" stroke-width="19" stroke-linejoin="round" stroke-linecap="round"/>
<path d="M745 150 Q560 330 585 540 Q600 640 625 680" fill="none" stroke="#000" stroke-width="10"/>
<path d="M1000 140 Q840 330 862 540 Q878 640 905 682" fill="none" stroke="#000" stroke-width="10"/>
<path d="M1060 118 Q1190 150 1215 320 L1310 330 L1320 600 Q1320 850 1230 900 L1080 870 Q960 800 925 560 Q900 260 1060 118 Z" fill="#000" stroke="#000" stroke-width="19" stroke-linejoin="round" stroke-linecap="round"/>
<path d="M1075 385 Q1035 470 1078 560" fill="none" stroke="#fff" stroke-width="13" stroke-linecap="round"/>
<rect x="1268" y="592" width="36" height="14" fill="#fff"/><rect x="1268" y="668" width="30" height="12" fill="#fff"/>
<path d="M935 800 Q945 950 925 1060" fill="none" stroke="#000" stroke-width="34"/>
<path d="M215 838 V1008" fill="none" stroke="#000" stroke-width="10"/>
<path d="M265 838 V1008" fill="none" stroke="#000" stroke-width="10"/>
<path d="M300 838 V1008" fill="none" stroke="#000" stroke-width="10"/>
<path d="M1120 880 V1092" fill="none" stroke="#000" stroke-width="10"/>
<path d="M1180 880 V1092" fill="none" stroke="#000" stroke-width="10"/>
<path d="M1240 880 V1092" fill="none" stroke="#000" stroke-width="10"/>
</g></g>
<circle cx="282.8" cy="1085.7" r="98.7" fill="none" stroke="#000" stroke-width="5.0"/>
<circle cx="1291.1" cy="797.7" r="98.2" fill="none" stroke="#000" stroke-width="5.0"/>
<circle cx="1843.6" cy="422.3" r="99.2" fill="none" stroke="#000" stroke-width="5.0"/>
<circle cx="841.1" cy="700.2" r="56.0" fill="none" stroke="#000" stroke-width="4.1"/>
<circle cx="920.2" cy="814.1" r="55.7" fill="none" stroke="#000" stroke-width="4.1"/>
<circle cx="944.1" cy="948.3" r="55.9" fill="none" stroke="#000" stroke-width="4.1"/>
<circle cx="1287.3" cy="535.1" r="56.6" fill="none" stroke="#000" stroke-width="4.3"/>
<circle cx="1452.5" cy="534.6" r="56.6" fill="none" stroke="#000" stroke-width="4.3"/>
<circle cx="1576.4" cy="653.0" r="56.8" fill="none" stroke="#000" stroke-width="4.2"/>
<circle cx="1543.4" cy="799.7" r="56.8" fill="none" stroke="#000" stroke-width="4.2"/>
<circle cx="1844.2" cy="157.7" r="56.8" fill="none" stroke="#000" stroke-width="4.2"/>
<circle cx="1983.7" cy="187.7" r="56.8" fill="none" stroke="#000" stroke-width="4.2"/>
<circle cx="2067.0" cy="292.9" r="56.7" fill="none" stroke="#000" stroke-width="4.2"/>
<circle cx="2099.9" cy="424.7" r="56.9" fill="none" stroke="#000" stroke-width="4.2"/>
<path d="M389.7 1145.4 L419.3 1130.2 L414.5 1145.4 L419.3 1162.4 Z" fill="#000"/>
<path d="M414 1145.4 H436.5 L444.3 1126 L452.2 1161 L459.1 1143.9 H479.5" fill="none" stroke="#000" stroke-width="3.9" stroke-linejoin="miter" stroke-miterlimit="10"/>
</g>
<g id="labels" fill="#000" stroke="#000">
<line x1="518.7" y1="363.5" x2="574.3" y2="363.5" stroke="#000" stroke-width="7.5" stroke-linecap="round"/>
<line x1="829.7" y1="363.5" x2="885.8" y2="363.5" stroke="#808080" stroke-width="7.5" stroke-linecap="round"/>
<text transform="translate(514.00 304.5) scale(0.93 1)" font-size="42.8" font-weight="bold" font-style="normal" textLength="324.73" lengthAdjust="spacing" stroke-width="0.25">GDP per person</text>
<text transform="translate(596.00 374) scale(0.94 1)" font-size="28.3" font-weight="normal" font-style="normal" textLength="219.15" lengthAdjust="spacing" stroke-width="0.75">United Kingdom</text>
<text transform="translate(899.00 374) scale(0.94 1)" font-size="28.3" font-weight="normal" font-style="normal" textLength="106.38" lengthAdjust="spacing" stroke-width="0.75">Sweden</text>
<text x="520.00" y="423.8" font-size="30.0" font-weight="normal" font-style="normal" textLength="15.00" lengthAdjust="spacingAndGlyphs" stroke-width="0.75">$</text>
<text transform="translate(516.00 473.3) scale(0.94 1)" font-size="27.6" font-weight="normal" font-style="normal" textLength="89.36" lengthAdjust="spacing" stroke-width="0.75">50,000</text>
<text transform="translate(516.00 631.8) scale(0.94 1)" font-size="27.6" font-weight="normal" font-style="normal" textLength="89.36" lengthAdjust="spacing" stroke-width="0.75">40,000</text>
<text transform="translate(516.00 790.8) scale(0.94 1)" font-size="27.6" font-weight="normal" font-style="normal" textLength="89.36" lengthAdjust="spacing" stroke-width="0.75">30,000</text>
<text transform="translate(516.00 1104.1) scale(0.94 1)" font-size="27.6" font-weight="normal" font-style="normal" textLength="89.36" lengthAdjust="spacing" stroke-width="0.75">10,000</text>
<text x="587.80" y="1263.3" font-size="27.6" font-weight="normal" font-style="normal" textLength="13.20" lengthAdjust="spacingAndGlyphs" stroke-width="0.75">0</text>
<text transform="translate(740.80 1301.2) scale(0.94 1)" font-size="27.6" font-weight="normal" font-style="normal" textLength="66.17" lengthAdjust="spacing" stroke-width="0.75">1825</text>
<text transform="translate(1282.80 1301.2) scale(0.94 1)" font-size="27.6" font-weight="normal" font-style="normal" textLength="64.04" lengthAdjust="spacing" stroke-width="0.75">1900</text>
<text transform="translate(1939.40 1301.2) scale(0.94 1)" font-size="27.6" font-weight="normal" font-style="normal" textLength="66.60" lengthAdjust="spacing" stroke-width="0.75">2022</text>
<text transform="translate(1244.40 1365.3) scale(0.94 1)" font-size="28.0" font-weight="normal" font-style="normal" textLength="812.13" lengthAdjust="spacing" stroke-width="0.75">©Johan Jarnestad/The Royal Swedish Academy of Sciences</text>
<text transform="translate(180.00 959.6) scale(0.9 1)" font-size="29.0" font-weight="bold" font-style="normal" textLength="229.11" lengthAdjust="spacing" stroke-width="0.25">STEAM ENGINE</text>
<text transform="translate(1230.80 948.4) scale(0.9 1)" font-size="29.0" font-weight="bold" font-style="normal" textLength="218.00" lengthAdjust="spacing" stroke-width="0.25">THREE-PHASE</text>
<text transform="translate(1229.80 984.1) scale(0.9 1)" font-size="29.0" font-weight="bold" font-style="normal" textLength="182.44" lengthAdjust="spacing" stroke-width="0.25">GENERATOR</text>
<text transform="translate(1580.20 288.6) scale(0.9 1)" font-size="29.0" font-weight="bold" font-style="normal" textLength="169.56" lengthAdjust="spacing" stroke-width="0.25">ARTIFICIAL</text>
<text transform="translate(1581.40 323.6) scale(0.9 1)" font-size="29.0" font-weight="bold" font-style="normal" textLength="222.00" lengthAdjust="spacing" stroke-width="0.25">INTELLIGENCE</text>
<text transform="translate(410.80 1200.7) scale(0.94 1)" font-size="29.3" font-weight="normal" font-style="italic" textLength="58.09" lengthAdjust="spacing" stroke-width="0.75">1712</text>
<text transform="translate(916.00 716.7) scale(0.94 1)" font-size="29.3" font-weight="normal" font-style="italic" textLength="117.02" lengthAdjust="spacing" stroke-width="0.75">Railways</text>
<text transform="translate(998.00 838.4) scale(0.94 1)" font-size="29.3" font-weight="normal" font-style="italic" textLength="156.17" lengthAdjust="spacing" stroke-width="0.75">Steamboats</text>
<text transform="translate(998.80 1017.9) scale(0.94 1)" font-size="29.3" font-weight="normal" font-style="italic" textLength="122.55" lengthAdjust="spacing" stroke-width="0.75">Factories</text>
<text transform="translate(1105.60 537.7) scale(0.94 1)" font-size="29.3" font-weight="normal" font-style="italic" textLength="101.06" lengthAdjust="spacing" stroke-width="0.75">Electric</text>
<text transform="translate(1120.20 573.1) scale(0.94 1)" font-size="29.3" font-weight="normal" font-style="italic" textLength="78.09" lengthAdjust="spacing" stroke-width="0.75">motor</text>
<text transform="translate(1531.80 522.7) scale(0.94 1)" font-size="29.3" font-weight="normal" font-style="italic" textLength="71.28" lengthAdjust="spacing" stroke-width="0.75">Safer</text>
<text transform="translate(1532.60 558.4) scale(0.94 1)" font-size="29.3" font-weight="normal" font-style="italic" textLength="153.19" lengthAdjust="spacing" stroke-width="0.75">workplaces</text>
<text transform="translate(1649.40 672.1) scale(0.94 1)" font-size="29.3" font-weight="normal" font-style="italic" textLength="140.64" lengthAdjust="spacing" stroke-width="0.75">Household</text>
<text transform="translate(1649.00 706.5) scale(0.94 1)" font-size="29.3" font-weight="normal" font-style="italic" textLength="141.28" lengthAdjust="spacing" stroke-width="0.75">appliances</text>
<text transform="translate(1613.40 816.7) scale(0.94 1)" font-size="29.3" font-weight="normal" font-style="italic" textLength="82.34" lengthAdjust="spacing" stroke-width="0.75">Power</text>
<text transform="translate(1613.20 851.9) scale(0.94 1)" font-size="29.3" font-weight="normal" font-style="italic" textLength="51.28" lengthAdjust="spacing" stroke-width="0.75">grid</text>
<text transform="translate(1763.60 81.8) scale(0.94 1)" font-size="29.3" font-weight="normal" font-style="italic" textLength="138.72" lengthAdjust="spacing" stroke-width="0.75">Medical AI</text>
<text transform="translate(1998.80 115.3) scale(0.94 1)" font-size="29.3" font-weight="normal" font-style="italic" textLength="112.77" lengthAdjust="spacing" stroke-width="0.75">Robotics</text>
<text transform="translate(2074.20 222.6) scale(0.94 1)" font-size="29.3" font-weight="normal" font-style="italic" textLength="124.26" lengthAdjust="spacing" stroke-width="0.75">Research</text>
<text transform="translate(2053.60 521.2) scale(0.94 1)" font-size="29.3" font-weight="normal" font-style="italic" textLength="165.96" lengthAdjust="spacing" stroke-width="0.75">Autonomous</text>
<text transform="translate(2052.80 556.4) scale(0.94 1)" font-size="29.3" font-weight="normal" font-style="italic" textLength="109.15" lengthAdjust="spacing" stroke-width="0.75">systems</text>
</g>
</svg>
</body></html>
